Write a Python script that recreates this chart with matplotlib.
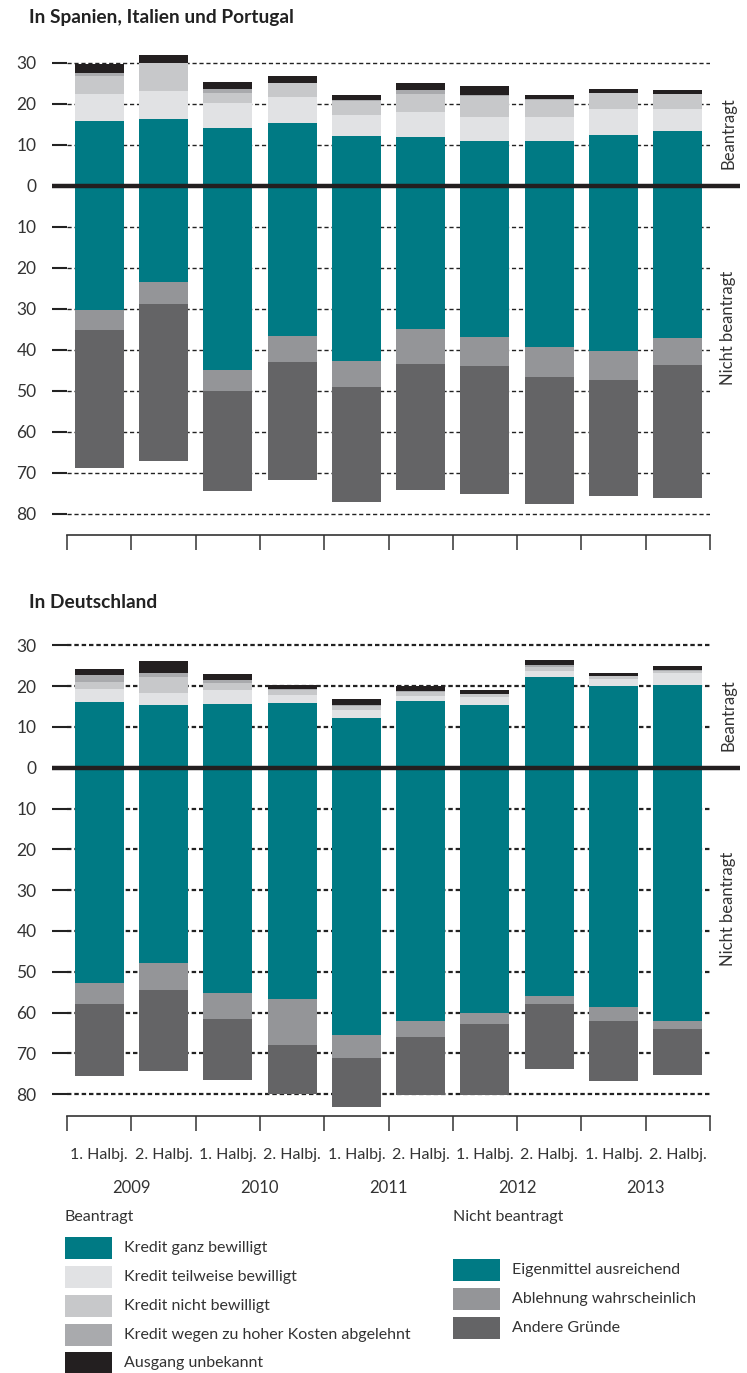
import matplotlib
matplotlib.use('Agg')
import matplotlib.pyplot as plt
from matplotlib.patches import Rectangle
import numpy as np

plt.rcParams['font.family'] = ['Lato', 'DejaVu Sans']

W, H = 747, 1373

periods = ['1. Halbj.', '2. Halbj.'] * 5
years = ['2009', '2010', '2011', '2012', '2013']

# Spanien, Italien, Portugal - Kredit beantragt (Segmente, % der Unternehmen)
sip_ganz = [15.9, 16.3, 14.1, 15.4, 12.2, 12.0, 11.0, 11.0, 12.4, 13.4]
sip_teilweise = [6.5, 6.9, 6.2, 6.3, 5.1, 6.0, 5.8, 5.8, 6.4, 5.4]
sip_nicht = [4.5, 6.7, 2.5, 3.3, 3.5, 4.4, 5.2, 4.2, 3.8, 3.6]
sip_kosten = [0.7, 0.0, 0.9, 0.2, 0.2, 1.0, 0.1, 0.1, 0.2, 0.1]
sip_unbekannt = [2.2, 2.0, 1.7, 1.6, 1.2, 1.7, 2.4, 1.2, 0.9, 1.0]
# Spanien, Italien, Portugal - nicht beantragt
sip_eigenmittel = [30.2, 23.4, 44.9, 36.6, 42.7, 34.9, 36.8, 39.3, 40.2, 37.1]
sip_ablehnung = [4.9, 5.4, 5.1, 6.3, 6.3, 8.5, 7.1, 7.3, 7.1, 6.6]
sip_andere = [33.6, 38.3, 24.3, 28.8, 28.0, 30.7, 31.2, 31.0, 28.3, 32.4]

# Deutschland - beantragt
de_ganz = [16.1, 15.4, 15.6, 15.9, 12.2, 16.3, 15.4, 22.2, 20.0, 20.2]
de_teilweise = [3.2, 2.9, 3.4, 1.9, 2.0, 1.3, 1.9, 1.5, 1.7, 3.0]
de_nicht = [1.7, 3.9, 1.7, 1.2, 0.9, 1.0, 0.7, 1.0, 0.7, 0.5]
de_kosten = [1.7, 1.0, 0.8, 0.2, 0.3, 0.1, 0.0, 0.5, 0.1, 0.2]
de_unbekannt = [1.5, 2.9, 1.5, 1.0, 1.5, 1.3, 1.0, 1.2, 0.7, 1.0]
# Deutschland - nicht beantragt
de_eigenmittel = [52.8, 47.9, 55.2, 56.7, 65.5, 62.1, 60.1, 55.9, 58.6, 62.1]
de_ablehnung = [5.1, 6.6, 6.4, 11.2, 5.7, 3.9, 2.7, 2.0, 3.5, 2.0]
de_andere = [17.7, 19.9, 14.9, 12.1, 11.9, 14.2, 17.4, 15.9, 14.7, 11.2]

pos_labels = ['Kredit ganz bewilligt', 'Kredit teilweise bewilligt', 'Kredit nicht bewilligt',
              'Kredit wegen zu hoher Kosten abgelehnt', 'Ausgang unbekannt']
neg_labels = ['Eigenmittel ausreichend', 'Ablehnung wahrscheinlich', 'Andere Gründe']
pos_colors = ['#007a84', '#e1e2e4', '#c7c8ca', '#a9aaad', '#231f20']
neg_colors = ['#007a84', '#949598', '#646466']

fig = plt.figure(figsize=(W / 100, H / 100), dpi=100)

LEFT, RIGHT = 67, 710
x = np.arange(len(periods))
bw = 0.763


def panel(top_px, bottom_px, zero_px, ppu, pos, neg, grid_lw, grid_dash):
    ax = fig.add_axes([LEFT / W, 1 - bottom_px / H, (RIGHT - LEFT) / W, (bottom_px - top_px) / H])
    ax.set_xlim(-0.5, 9.5)
    ax.set_ylim((zero_px - bottom_px) / ppu, (zero_px - top_px) / ppu)
    for s in ['top', 'right', 'left']:
        ax.spines[s].set_visible(False)
    ax.spines['bottom'].set_color('#333333')
    ax.spines['bottom'].set_linewidth(1.2)

    yt = np.arange(-80, 31, 10)
    ax.set_yticks(yt)
    ax.set_yticklabels([str(abs(v)) for v in yt])
    ax.tick_params(axis='y', length=11, width=1.5, color='#222222', pad=11,
                   labelsize=12.5, labelcolor='#333333')
    for v in yt:
        if v != 0:
            ax.axhline(v, color='#222222', lw=grid_lw, ls=(0, grid_dash), zorder=1)

    cum = np.zeros(len(x))
    for vals, c in zip(pos, pos_colors):
        ax.bar(x, vals, bottom=cum, width=bw, color=c, zorder=2)
        cum += np.array(vals)
    cum = np.zeros(len(x))
    for vals, c in zip(neg, neg_colors):
        ax.bar(x, -np.array(vals), bottom=-cum, width=bw, color=c, zorder=2)
        cum += np.array(vals)

    ax.plot([-0.5 - 15 / 64.3, 9.5 + 30 / 64.3], [0, 0], color='#231f20', lw=3.2,
            solid_capstyle='butt', clip_on=False, zorder=3)

    ax.set_xticks(np.arange(-0.5, 10, 1), minor=True)
    ax.tick_params(axis='x', which='minor', length=11, width=1.1, color='#333333')
    ax.tick_params(axis='x', which='major', length=0)

    ax.text(9.78, 12.9, 'Beantragt', rotation=90, ha='center', va='center',
            fontsize=12, color='#333333')
    ax.text(9.78, -34.5, 'Nicht beantragt', rotation=90, ha='center', va='center',
            fontsize=12, color='#333333')
    return ax


ax1 = panel(45, 535, 186, 4.1,
            [sip_ganz, sip_teilweise, sip_nicht, sip_kosten, sip_unbekannt],
            [sip_eigenmittel, sip_ablehnung, sip_andere], 1.0, (3, 2))
ax1.set_xticks([])

ax2 = panel(625, 1116, 767.7, 4.08,
            [de_ganz, de_teilweise, de_nicht, de_kosten, de_unbekannt],
            [de_eigenmittel, de_ablehnung, de_andere], 1.6, (2, 1.3))
ax2.set_xticks(x)
ax2.set_xticklabels(periods, fontsize=11.5, color='#333333')
ax2.tick_params(axis='x', which='major', pad=23)
for i, yr in enumerate(years):
    ax2.annotate(yr, xy=(2 * i + 0.5, 1 - 1188 / H), xycoords=('data', 'figure fraction'),
                 ha='center', va='center', fontsize=12, color='#333333')

fig.text(29 / W, 1 - 17 / H, 'In Spanien, Italien und Portugal', fontsize=13.8,
         fontweight='bold', va='center', color='#222222')
fig.text(29 / W, 1 - 603 / H, 'In Deutschland', fontsize=13.8,
         fontweight='bold', va='center', color='#222222')

# Legende
def legend_block(x0, head_y, rows_y, labels, colors, title):
    fig.text(x0 / W, 1 - head_y / H, title, fontsize=11.5, va='center', color='#333333')
    for yc, lab, c in zip(rows_y, labels, colors):
        fig.add_artist(Rectangle((x0 / W, 1 - (yc + 11) / H), 47 / W, 22 / H,
                                 transform=fig.transFigure, color=c, lw=0))
        fig.text((x0 + 59) / W, 1 - yc / H, lab, fontsize=11.5, va='center', color='#333333')


legend_block(65, 1217, [1248, 1277, 1306, 1335, 1363], pos_labels, pos_colors, 'Beantragt')
legend_block(453, 1217, [1270, 1299, 1328], neg_labels, neg_colors, 'Nicht beantragt')

fig.savefig('out.png', dpi=100)
